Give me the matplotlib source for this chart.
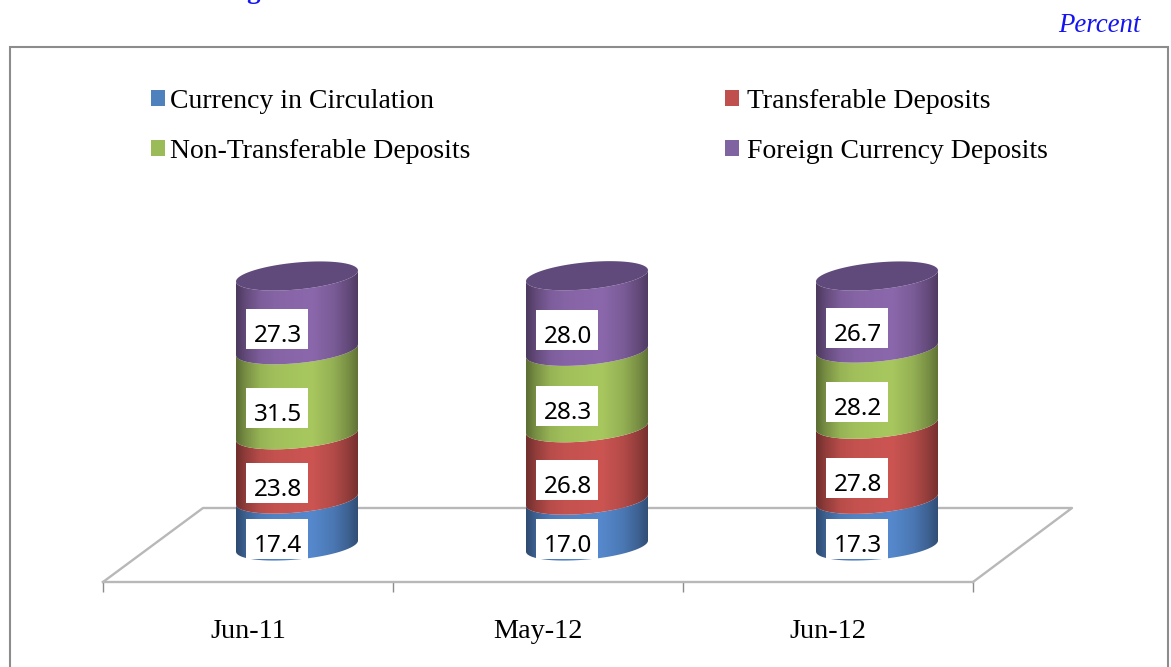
import numpy as np
import matplotlib
matplotlib.use("Agg")
import matplotlib.pyplot as plt
from matplotlib.lines import Line2D
from matplotlib.patches import Polygon, Rectangle
from matplotlib.transforms import Affine2D

categories = ["Jun-11", "May-12", "Jun-12"]
series_names = ["Currency in Circulation", "Transferable Deposits",
                "Non-Transferable Deposits", "Foreign Currency Deposits"]
currency = [17.4, 17.0, 17.3]
transferable = [23.8, 26.8, 27.8]
non_transferable = [31.5, 28.3, 28.2]
foreign = [27.3, 28.0, 26.7]
series_values = [currency, transferable, non_transferable, foreign]
colors = ["#5588CC", "#CC5552", "#A8C85F", "#8B68AC"]
legend_colors = ["#4F81BD", "#C0504D", "#9BBB59", "#8064A2"]
cap_color = "#604A7B"

W, H = 1171, 667
fig = plt.figure(figsize=(W / 100, H / 100), dpi=100, facecolor="white")
px = Affine2D().scale(1 / W, -1 / H).translate(0, 1) + fig.transFigure

# pixel layout of the plot
x0, x1, y_bottom, y_top = 103, 973, 582, 200
y_zero, px_per_unit = 546, 2.7
ax = fig.add_axes([x0 / W, 1 - y_bottom / H, (x1 - x0) / W, (y_bottom - y_top) / H])
ax.patch.set_alpha(0)
ax.set_zorder(1)
xlim = (0, 3)
ylim = ((y_zero - y_bottom) / px_per_unit, (y_zero - y_top) / px_per_unit)
px_per_cat = (x1 - x0) / 3

# outer frame and floor
frame_c = "#8c8c8c"
fig.add_artist(Line2D([10, 10, 1168, 1168], [667, 47, 47, 667], transform=px,
                      color=frame_c, lw=1.5, solid_joinstyle="miter"))
floor_c = "#b8b8b8"
fig.add_artist(Line2D([103, 203, 1072, 973], [582, 508, 508, 582], transform=px,
                      color=floor_c, lw=1.7, zorder=0.5))

# cylinders
depth_shift = 49 / px_per_cat
a = 61 / px_per_cat
b = 13.5 / px_per_unit
shear = 5.5 / px_per_unit
stops_x = [0, 0.08, 0.20, 0.32, 0.62, 0.80, 0.92, 1]
stops_f = [0.55, 0.72, 0.90, 0.96, 1.0, 0.88, 0.72, 0.58]
t_front = np.linspace(np.pi, 2 * np.pi, 80)


def front(cx, y):
    return cx + a * np.cos(t_front), y + b * np.sin(t_front) + shear * np.cos(t_front)


for i in range(len(categories)):
    cx = i + 0.5 + depth_shift
    base = 0.0
    for j, vals in enumerate(series_values):
        top = base + vals[i]
        xb, yb = front(cx, base)
        xt, yt = front(cx, top)
        poly = Polygon(np.column_stack([np.r_[xb, xt[::-1]], np.r_[yb, yt[::-1]]]),
                       closed=True, transform=ax.transData, fc="none", ec="none")
        ax.add_patch(poly)
        rgb = np.array(matplotlib.colors.to_rgb(colors[j]))
        f = np.interp(np.linspace(0, 1, 122), stops_x, stops_f)
        img = (f[:, None] * rgb)[None, :, :]
        im = ax.imshow(img, extent=(cx - a, cx + a, base - 30, top + 30),
                       aspect="auto", zorder=2, interpolation="bilinear")
        im.set_clip_path(poly)
        base = top
    t = np.linspace(0, 2 * np.pi, 160)
    ax.fill(cx + a * np.cos(t), base + b * np.sin(t) + shear * np.cos(t),
            color=cap_color, lw=0, zorder=3)

    # value labels
    base = 0.0
    for vals in series_values:
        v = vals[i]
        xc = cx - 20 / px_per_cat
        yc = base + v / 2 - 16 / px_per_unit
        ax.add_patch(Rectangle((xc - 31 / px_per_cat, yc - 20 / px_per_unit),
                               62 / px_per_cat, 40 / px_per_unit,
                               fc="white", ec="none", zorder=4))
        ax.text(xc + 1 / px_per_cat, yc - 7 / px_per_unit, f"{v:.1f}", ha="center", va="center",
                fontsize=17.5, family="Noto Sans", color="black", zorder=5)
        base += v

ax.set_xlim(*xlim)
ax.set_ylim(*ylim)
for s in ("top", "left", "right"):
    ax.spines[s].set_visible(False)
ax.spines["bottom"].set_color(floor_c)
ax.spines["bottom"].set_linewidth(1.7)
ax.set_yticks([])
ax.set_xticks(range(len(categories) + 1))
ax.set_xticklabels([])
ax.tick_params(axis="x", which="major", length=7.2, width=1.0, color=frame_c)
ax.set_xticks(np.arange(len(categories)) + 0.5, minor=True)
ax.set_xticklabels(categories, minor=True, family="Liberation Serif", fontsize=20.3)
ax.tick_params(axis="x", which="minor", length=0, pad=27)

# legend, one per column because the gaps differ
prop = {"family": "Liberation Serif", "size": 20.0}
for cols, left, top, pad in (([0, 2], 151, 89, 0.17), ([1, 3], 725, 89, 0.28)):
    handles = [Rectangle((0, 0), 1, 1, fc=legend_colors[k], ec="none") for k in cols]
    fig.legend(handles, [series_names[k] for k in cols], ncols=1, loc="upper left",
               bbox_to_anchor=(left / W, 1 - top / H), frameon=False, prop=prop,
               borderpad=0, borderaxespad=0, handlelength=0.51, handleheight=0.51,
               handletextpad=pad, labelspacing=0.89)

# header texts
fig.text(1141 / W, 1 - 25 / H, "Percent", ha="right", va="center", color="#1414f0",
         style="italic", family="Liberation Serif", fontsize=19.4)
fig.text(253 / W, 1 + 2 / H, "g", ha="center", va="baseline", color="#1414f0",
         weight="bold", family="Liberation Serif", fontsize=19.4)

fig.savefig("out.png", dpi=100)
